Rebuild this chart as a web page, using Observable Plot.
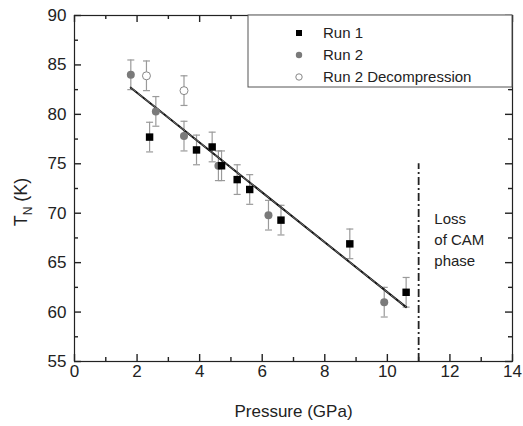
<!DOCTYPE html>
<html>
<head>
<meta charset="utf-8">
<script src="https://cdn.jsdelivr.net/npm/d3@7"></script>
<script src="https://cdn.jsdelivr.net/npm/@observablehq/plot@0.6"></script>
<style>
  html, body { margin: 0; padding: 0; background: #fff; }
</style>
</head>
<body>
<div id="chart"></div>
<script>
// Data
const run1P = [2.4, 3.9, 4.4, 4.7, 5.2, 5.6, 6.6, 8.8, 10.6];
const run1T = [77.7, 76.4, 76.7, 74.8, 73.4, 72.4, 69.3, 66.9, 62.0];
const run2P = [1.8, 2.6, 3.5, 4.6, 6.2, 9.9];
const run2T = [84.0, 80.3, 77.8, 74.8, 69.8, 61.0];
const decP = [2.3, 3.5];
const decT = [83.9, 82.4];
const errT = 1.5;
const fitP = [1.8, 10.6];
const fitT = [82.7, 60.5];
const boundaryP = 11;
const boundaryT = [55, 75];
const xMajor = [0, 2, 4, 6, 8, 10, 12, 14];
const xMinor = [1, 3, 5, 7, 9, 11, 13];
const yMajor = [55, 60, 65, 70, 75, 80, 85, 90];
const yMinor = [57.5, 62.5, 67.5, 72.5, 77.5, 82.5, 87.5];
const legendLabels = ["Run 1", "Run 2", "Run 2 Decompression"];

const run1 = run1P.map((p, i) => ({p, t: run1T[i]}));
const run2 = run2P.map((p, i) => ({p, t: run2T[i]}));
const dec = decP.map((p, i) => ({p, t: decT[i]}));
const all = [...run1, ...run2, ...dec];
const fit = fitP.map((p, i) => ({p, t: fitT[i]}));

const W = 523, H = 426, mL = 74, mR = 11, mT = 15, mB = 65;
const innerW = W - mL - mR, innerH = H - mT - mB;
const majorLen = 7, minorLen = 4;

const capSymbol = {draw(ctx, size) { const r = Math.sqrt(size / Math.PI); ctx.moveTo(-r, 0); ctx.lineTo(r, 0); }};
const errColor = "#9a9a9a";
const axisColor = "#222";
const tickStyle = {stroke: axisColor, strokeWidth: 1.4};

const plot = Plot.plot({
  width: W,
  height: H,
  marginLeft: mL,
  marginRight: mR,
  marginTop: mT,
  marginBottom: mB,
  style: {fontFamily: "'Liberation Sans', Arial, sans-serif", fontSize: "17px", background: "#fff", color: "#000"},
  x: {domain: [0, 14]},
  y: {domain: [55, 90]},
  marks: [
    // error bars
    Plot.ruleX(all, {x: "p", y1: d => d.t - errT, y2: d => d.t + errT, stroke: errColor, strokeWidth: 1.2}),
    Plot.dot(all, {x: "p", y: d => d.t - errT, symbol: capSymbol, r: 3.5, stroke: errColor, fill: "none", strokeWidth: 1.2}),
    Plot.dot(all, {x: "p", y: d => d.t + errT, symbol: capSymbol, r: 3.5, stroke: errColor, fill: "none", strokeWidth: 1.2}),
    // fit line
    Plot.line(fit, {x: "p", y: "t", stroke: "#111", strokeWidth: 2}),
    Plot.line(fit, {x: "p", y: "t", stroke: "#888", strokeWidth: 0.8, strokeDasharray: "6,3"}),
    // boundary
    Plot.ruleX([boundaryP], {y1: boundaryT[0], y2: boundaryT[1], stroke: "#222", strokeWidth: 1.8, strokeDasharray: "8,3,2,3"}),
    Plot.text(["Loss\nof CAM\nphase"], {x: 11.5, y: 67.5, text: d => d, textAnchor: "start", lineAnchor: "middle", lineHeight: 1.4, fontSize: 15, fill: "#222"}),
    // points
    Plot.dot(run2, {x: "p", y: "t", r: 4, fill: "#7a7a7a", stroke: "none"}),
    Plot.dot(dec, {x: "p", y: "t", r: 4, fill: "#fff", stroke: "#888", strokeWidth: 1}),
    Plot.dot(run1, {x: "p", y: "t", symbol: "square", r: 4.2, fill: "#000", stroke: "none"}),
    // inward ticks on all four sides
    Plot.ruleX(xMajor, {x: d => d, insetTop: innerH - majorLen, ...tickStyle}),
    Plot.ruleX(xMinor, {x: d => d, insetTop: innerH - minorLen, ...tickStyle}),
    Plot.ruleX(xMajor, {x: d => d, insetBottom: innerH - majorLen, ...tickStyle}),
    Plot.ruleX(xMinor, {x: d => d, insetBottom: innerH - minorLen, ...tickStyle}),
    Plot.ruleY(yMajor, {y: d => d, insetRight: innerW - majorLen, ...tickStyle}),
    Plot.ruleY(yMinor, {y: d => d, insetRight: innerW - minorLen, ...tickStyle}),
    Plot.ruleY(yMajor, {y: d => d, insetLeft: innerW - majorLen, ...tickStyle}),
    Plot.ruleY(yMinor, {y: d => d, insetLeft: innerW - minorLen, ...tickStyle}),
    Plot.frame({stroke: axisColor, strokeWidth: 1.2}),
    Plot.axisX({ticks: xMajor, tickSize: 0, tickPadding: 3, fontSize: 17, fill: "#222", label: "Pressure (GPa)", labelAnchor: "center", labelOffset: 55, labelArrow: "none"}),
    Plot.axisY({ticks: yMajor, tickSize: 0, tickPadding: 8, fontSize: 17, fill: "#222", label: null})
  ]
});

document.getElementById("chart").appendChild(plot);

// Y axis title with subscript, and legend box
const svg = d3.select(plot);
const yl = svg.append("text")
  .attr("transform", "translate(27,202) rotate(-90)")
  .attr("text-anchor", "middle")
  .attr("font-size", 18)
  .attr("fill", "#222");
yl.append("tspan").text("T");
yl.append("tspan").attr("font-size", 12).attr("dy", 5).text("N");
yl.append("tspan").attr("dy", -5).text(" (K)");

const lg = svg.append("g").attr("text-anchor", "start");
lg.append("rect").attr("x", 248).attr("y", 15).attr("width", 264).attr("height", 72)
  .attr("fill", "#fff").attr("stroke", "#555").attr("stroke-width", 1);
const rows = [33, 55, 77];
lg.append("rect").attr("x", 296).attr("y", rows[0] - 3).attr("width", 6).attr("height", 6).attr("fill", "#000");
lg.append("circle").attr("cx", 299).attr("cy", rows[1]).attr("r", 3.2).attr("fill", "#7a7a7a");
lg.append("circle").attr("cx", 299).attr("cy", rows[2]).attr("r", 3.2).attr("fill", "#fff").attr("stroke", "#888");
legendLabels.forEach((s, i) => {
  lg.append("text").attr("x", 323).attr("y", rows[i]).attr("dy", "0.35em")
    .attr("text-anchor", "start").attr("font-size", 15).attr("fill", "#222").text(s);
});
</script>
</body>
</html>
